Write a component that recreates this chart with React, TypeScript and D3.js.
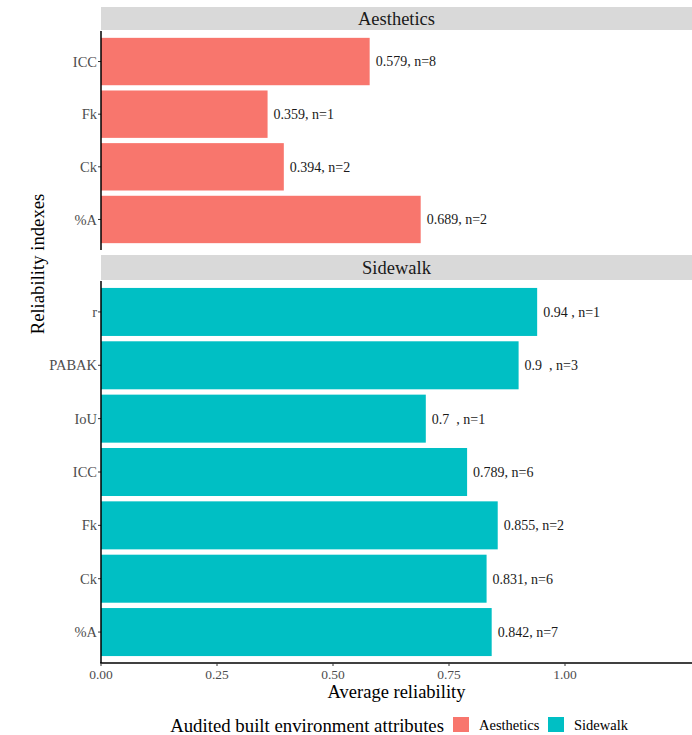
import React from "react";
import * as d3 from "d3";

const aestheticsIdx = ["ICC", "Fk", "Ck", "%A"];
const aestheticsVal = [0.579, 0.359, 0.394, 0.689];
const aestheticsLbl = ["0.579, n=8", "0.359, n=1", "0.394, n=2", "0.689, n=2"];

const sidewalkIdx = ["r", "PABAK", "IoU", "ICC", "Fk", "Ck", "%A"];
const sidewalkVal = [0.94, 0.9, 0.7, 0.789, 0.855, 0.831, 0.842];
const sidewalkLbl = ["0.94 , n=1", "0.9  , n=3", "0.7  , n=1", "0.789, n=6", "0.855, n=2", "0.831, n=6", "0.842, n=7"];

const xTicks = [0, 0.25, 0.5, 0.75, 1.0];
const groups = ["Aesthetics", "Sidewalk"];
const colors = ["#F8766D", "#00BFC4"];

const FONT = "'Liberation Serif', 'Times New Roman', serif";

export default function App() {
  const W = 692, H = 735;
  const left = 101, right = 692;
  const x = d3.scaleLinear().domain([0, 1]).range([left, left + 464]);

  const panels = [
    { name: groups[0], idx: aestheticsIdx, val: aestheticsVal, lbl: aestheticsLbl, color: colors[0], stripTop: 7, top: 31, bottom: 250 },
    { name: groups[1], idx: sidewalkIdx, val: sidewalkVal, lbl: sidewalkLbl, color: colors[1], stripTop: 255, top: 281, bottom: 663 },
  ];

  return (
    <svg width={W} height={H} style={{ position: "absolute", left: 0, top: 0, background: "#fff" }} fontFamily={FONT}>
      <rect x={0} y={0} width={W} height={H} fill="#fff" />
      {panels.map((p) => {
        const y = d3.scalePoint<string>().domain(p.idx).range([p.top, p.bottom]).padding(0.58);
        const step = y.step();
        const bh = step * 0.9;
        return (
          <g key={p.name}>
            <rect x={left} y={p.stripTop} width={right - left} height={p.top - p.stripTop - 1} fill="#D9D9D9" />
            <text x={(left + right) / 2} y={(p.stripTop + p.top) / 2} dy="0.35em" textAnchor="middle" fontSize={18.5} fill="#1A1A1A">{p.name}</text>
            {p.idx.map((k, i) => (
              <g key={k}>
                <rect x={x(0)} y={(y(k) as number) - bh / 2} width={x(p.val[i]) - x(0)} height={bh} fill={p.color} />
                <text x={x(p.val[i]) + 6} y={y(k) as number} dy="0.35em" fontSize={14} fill="#1A1A1A" style={{ whiteSpace: "pre" }}>{p.lbl[i]}</text>
                <line x1={left - 3} x2={left} y1={y(k) as number} y2={y(k) as number} stroke="#333" strokeWidth={1} />
                <text x={left - 4} y={y(k) as number} dy="0.35em" textAnchor="end" fontSize={14.5} fill="#4D4D4D">{k}</text>
              </g>
            ))}
            <line x1={left} x2={left} y1={p.top} y2={p.bottom} stroke="#000" strokeWidth={1.5} />
          </g>
        );
      })}
      <line x1={left - 0.75} x2={right} y1={663} y2={663} stroke="#000" strokeWidth={1.5} />
      {xTicks.map((t) => (
        <g key={t}>
          <line x1={x(t)} x2={x(t)} y1={663} y2={666} stroke="#333" />
          <text x={x(t)} y={674} dy="0.35em" textAnchor="middle" fontSize={13.5} fill="#4D4D4D">{d3.format(".2f")(t)}</text>
        </g>
      ))}
      <text x={(left + right) / 2} y={692} dy="0.35em" textAnchor="middle" fontSize={18.5} fill="#000">Average reliability</text>
      <text transform={`translate(37,264) rotate(-90)`} textAnchor="middle" dy="0.35em" fontSize={18.7} fill="#000">Reliability indexes</text>
      <text x={444} y={725} dy="0.35em" textAnchor="end" fontSize={18.8} fill="#000">Audited built environment attributes</text>
      {groups.map((g, i) => {
        const kx = i === 0 ? 453 : 548;
        return (
          <g key={g}>
            <rect x={kx} y={717} width={16} height={15} fill={colors[i]} />
            <text x={kx + 26} y={725} dy="0.35em" fontSize={14.5} fill="#000">{g}</text>
          </g>
        );
      })}
    </svg>
  );
}
